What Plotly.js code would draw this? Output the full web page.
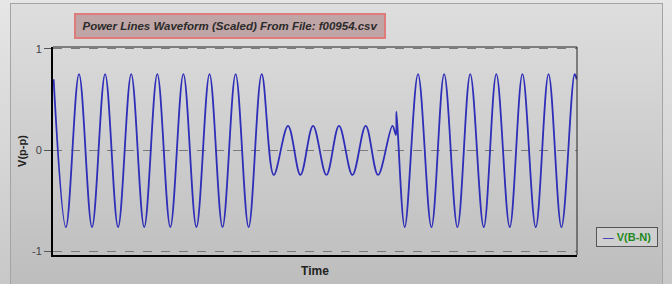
<!DOCTYPE html>
<html>
<head>
<meta charset="utf-8">
<script src="https://cdn.plot.ly/plotly-3.0.1.min.js"></script>
<style>
  html, body { margin: 0; padding: 0; width: 672px; height: 284px; overflow: hidden;
    background: linear-gradient(to bottom, #e6e6e6, #c8c8c8); }
  #panel { position: absolute; left: 10px; top: 3px; width: 651px; height: 290px;
    border: 1px solid #a4a4a4; background: linear-gradient(to bottom, #dedede, #bcbcbc); }
  #chart { position: absolute; left: 0; top: 0; width: 672px; height: 284px; }
</style>
</head>
<body>
<div id="panel"></div>
<div id="chart"></div>
<script>
const timeMs = [0.4, 8.24, 16.60, 24.91, 33.27, 41.57, 49.94, 58.24, 66.61, 74.91, 83.27,
  91.58, 99.94, 108.24, 116.61, 124.91, 133.28,
  140.94, 150.07, 157.99, 166.04, 174.59, 182.64, 191.20, 199.69, 207.54, 216.74,
  218.98, 219.30,
  224.60, 233.09, 241.65, 249.76, 258.25, 266.43, 275.05, 283.09, 291.65, 299.76,
  308.25, 316.43, 324.67, 333.09, 334.4];
const vBN = [0.70, -0.76, 0.75, -0.76, 0.75, -0.76, 0.75, -0.76, 0.75, -0.76, 0.75,
  -0.76, 0.75, -0.76, 0.75, -0.76, 0.75,
  -0.245, 0.24, -0.245, 0.24, -0.245, 0.24, -0.245, 0.24, -0.245, 0.24,
  0.15, 0.38,
  -0.76, 0.75, -0.76, 0.75, -0.76, 0.75, -0.76, 0.75, -0.76, 0.75,
  -0.76, 0.75, -0.76, 0.75, 0.70];
const yTicks = [-1, 0, 1];
const yTickText = ['-1', '0', '1'];
const seriesName = 'V(B-N)';
const chartTitle = 'Power Lines Waveform (Scaled) From File: f00954.csv';

const trace = {
  x: timeMs, y: vBN, type: 'scatter', mode: 'lines', name: seriesName,
  line: { color: '#2e2eb8', width: 1.8, shape: 'spline', smoothing: 1 },
  showlegend: false, hoverinfo: 'x+y'
};

const layout = {
  width: 672, height: 284,
  margin: { l: 53, r: 95, t: 47, b: 29 },
  paper_bgcolor: 'rgba(0,0,0,0)', plot_bgcolor: 'rgba(0,0,0,0)',
  font: { family: 'Arial, Liberation Sans, sans-serif', size: 11, color: '#333' },
  xaxis: {
    range: [0, 334.6], showticklabels: false, ticks: '', showgrid: false, zeroline: false,
    showline: true, linecolor: '#000', linewidth: 2,
    title: { text: '<b>Time</b>', font: { size: 12, color: '#222' }, standoff: 11 }
  },
  yaxis: {
    range: [-1.035, 1.018], tickvals: yTicks, ticktext: yTickText,
    ticks: 'outside', ticklen: 7, tickcolor: '#555', tickwidth: 1,
    tickfont: { size: 11, color: '#444' },
    showgrid: true, gridcolor: '#7a7a7a', griddash: 'dash', gridwidth: 1, zeroline: false,
    showline: true, linecolor: '#000', linewidth: 2,
    title: { text: '<b>V(p-p)</b>', font: { size: 11, color: '#222' }, standoff: 3 }
  },
  shapes: [
    { type: 'line', xref: 'paper', yref: 'paper', x0: 0, x1: 1, y0: 1, y1: 1,
      line: { color: '#222', width: 1 } },
    { type: 'line', xref: 'paper', yref: 'paper', x0: 1, x1: 1, y0: 0, y1: 1,
      line: { color: '#222', width: 1 } }
  ],
  annotations: [
    { text: '<b><i>' + chartTitle + '</i></b>', xref: 'paper', yref: 'paper',
      x: 0.3372, y: 1.0994, xanchor: 'center', yanchor: 'middle', showarrow: false,
      font: { family: 'Arial, Liberation Sans, sans-serif', size: 11.5, color: '#2a2a2a' },
      bgcolor: '#bfa5a5', bordercolor: '#e07b7b', borderwidth: 2, borderpad: 2,
      width: 304, height: 18 },
    { text: '<span style="color:#2626b4">—</span> <b>' + seriesName + '</b>',
      xref: 'paper', yref: 'paper', x: 1.0958, y: 0.0864, xanchor: 'center', yanchor: 'middle',
      showarrow: false, font: { size: 11, color: '#1e8a1e' },
      bgcolor: '#cfcfcf', bordercolor: '#555', borderwidth: 1, borderpad: 2,
      width: 56, height: 14 }
  ]
};

Plotly.newPlot('chart', [trace], layout, { displayModeBar: false, staticPlot: true });
</script>
</body>
</html>
